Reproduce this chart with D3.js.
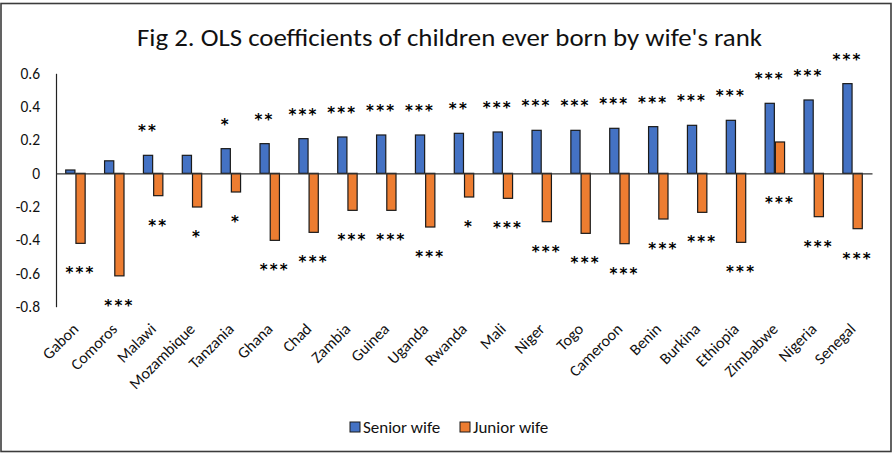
<!DOCTYPE html>
<html>
<head>
<meta charset="utf-8">
<script src="https://cdn.jsdelivr.net/npm/d3@7"></script>
<style>
  body { margin: 0; background: #fff; }
  svg text { font-family: Carlito, Lato, "Open Sans", sans-serif; fill: #111; }
  svg text.star { font-family: "DejaVu Sans", sans-serif; font-weight: bold; fill: #000; }
</style>
</head>
<body>
<svg id="chart" width="894" height="454"></svg>
<script>
// Coefficients of children ever born, by country and wife's rank
const countries = ["Gabon", "Comoros", "Malawi", "Mozambique", "Tanzania", "Ghana", "Chad",
  "Zambia", "Guinea", "Uganda", "Rwanda", "Mali", "Niger", "Togo", "Cameroon", "Benin",
  "Burkina", "Ethiopia", "Zimbabwe", "Nigeria", "Senegal"];
const seniorWife = [0.02, 0.075, 0.108, 0.108, 0.148, 0.178, 0.208, 0.218, 0.23, 0.23, 0.24,
  0.248, 0.258, 0.258, 0.27, 0.28, 0.288, 0.318, 0.42, 0.44, 0.538];
const juniorWife = [-0.42, -0.615, -0.134, -0.202, -0.112, -0.402, -0.354, -0.222, -0.222,
  -0.322, -0.142, -0.15, -0.29, -0.36, -0.422, -0.274, -0.234, -0.414, 0.188, -0.26, -0.332];
// Significance stars for each coefficient
const seniorStars = ["", "", "**", "", "*", "**", "***", "***", "***", "***", "**", "***",
  "***", "***", "***", "***", "***", "***", "***", "***", "***"];
const juniorStars = ["***", "***", "**", "*", "*", "***", "***", "***", "***", "***", "*",
  "***", "***", "***", "***", "***", "***", "***", "***", "***", "***"];
const yTicks = [0.6, 0.4, 0.2, 0, -0.2, -0.4, -0.6, -0.8];
const seriesNames = ["Senior wife", "Junior wife"];
const seriesColors = ["#4472C4", "#ED7D31"];

const title = "Fig 2. OLS coefficients of children ever born by wife's rank";

const svg = d3.select("#chart");
const plot = { left: 56, right: 872, top: 73.3, bottom: 306.7 };

// frame
svg.append("rect")
  .attr("x", 1).attr("y", 3.5).attr("width", 890).attr("height", 448)
  .attr("fill", "#fff").attr("stroke", "#3c3c3c").attr("stroke-width", 1.6);

svg.append("text")
  .attr("x", 449.5).attr("y", 46)
  .attr("text-anchor", "middle")
  .attr("font-size", 25)
  .attr("textLength", 625).attr("lengthAdjust", "spacingAndGlyphs")
  .text(title);

const x = d3.scaleBand().domain(countries)
  .range([plot.left, plot.right]).paddingInner(0.5).paddingOuter(0.25);
const xs = d3.scaleBand().domain(seriesNames).range([0, x.bandwidth()]).paddingInner(0.1);
const y = d3.scaleLinear().domain([-0.8, 0.6]).range([plot.bottom, plot.top]);

// y axis
const yAxis = svg.append("g")
  .attr("transform", `translate(${plot.left},0)`)
  .call(d3.axisLeft(y).tickValues(yTicks).tickSize(0).tickSizeOuter(0).tickPadding(16)
    .tickFormat(d => d === 0 ? "0" : String(d)));
yAxis.select(".domain").attr("stroke", "#222").attr("stroke-width", 1.2);
yAxis.selectAll("text").attr("font-size", 15.5).attr("font-family", null).attr("fill", "#111");

// bars
const rows = countries.map((c, i) => ({ country: c, values: [seniorWife[i], juniorWife[i]], stars: [seniorStars[i], juniorStars[i]] }));
const groups = svg.append("g").selectAll("g").data(rows).join("g")
  .attr("transform", d => `translate(${x(d.country)},0)`);

groups.selectAll("rect")
  .data(d => d.values.map((v, k) => ({ v, k })))
  .join("rect")
  .attr("x", d => xs(seriesNames[d.k]))
  .attr("width", xs.bandwidth())
  .attr("y", d => y(Math.max(0, d.v)))
  .attr("height", d => Math.abs(y(d.v) - y(0)))
  .attr("fill", d => seriesColors[d.k])
  .attr("stroke", "#1a1a1a").attr("stroke-width", 1.2);

// zero line
const xAxis = svg.append("g")
  .attr("transform", `translate(0,${y(0)})`)
  .call(d3.axisBottom(x).tickSize(0).tickSizeOuter(0).tickFormat(""));
xAxis.select(".domain").attr("stroke", "#333").attr("stroke-width", 1.2);

// significance stars: above senior bars, below junior bars
const starGap = 28;
groups.selectAll("text.star")
  .data(d => d.stars.map((s, k) => ({ s, k, v: d.values[k] })).filter(d => d.s))
  .join("text")
  .attr("class", "star")
  .attr("x", d => xs(seriesNames[d.k]) + xs.bandwidth() / 2)
  .attr("y", d => d.k === 0 ? y(d.v) - starGap + 9 : y(Math.min(0, d.v)) + 26 + 9)
  .attr("text-anchor", "middle")
  .attr("font-size", 15)
  .attr("letter-spacing", 2.2)
  .text(d => d.s);

// category labels
svg.append("g").selectAll("text").data(countries).join("text")
  .attr("transform", d => `translate(${x(d) + x.bandwidth() / 2 + 4},${330}) rotate(-45)`)
  .attr("text-anchor", "end")
  .attr("font-size", 16)
  .text(d => d);

// legend
const legend = svg.append("g").selectAll("g").data(seriesNames).join("g")
  .attr("transform", (d, i) => `translate(${i === 0 ? 350 : 460},422)`);
legend.append("rect").attr("width", 10).attr("height", 10)
  .attr("fill", (d, i) => seriesColors[i]).attr("stroke", "#1a1a1a").attr("stroke-width", 1);
legend.append("text").attr("x", 13).attr("y", 10.5).attr("font-size", 17).text(d => d);
</script>
</body>
</html>
